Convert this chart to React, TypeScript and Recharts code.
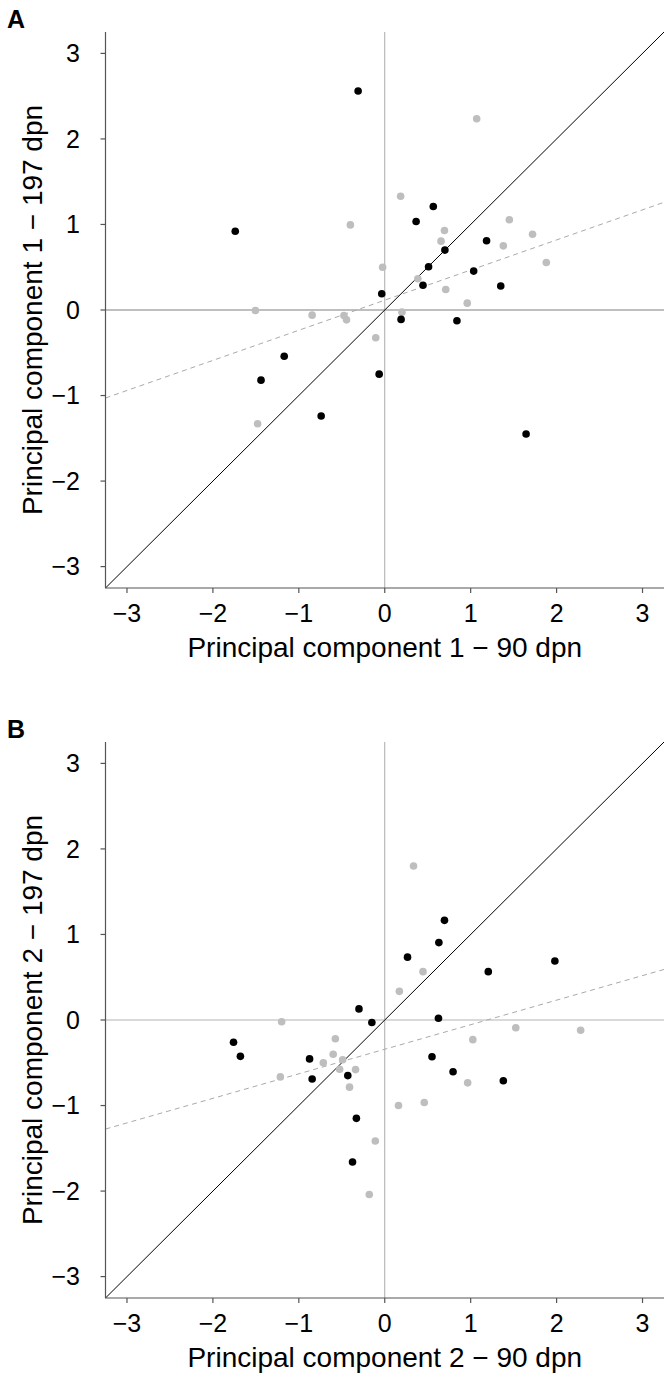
import { Label, ReferenceLine, Scatter, ScatterChart, XAxis, YAxis } from "recharts";

// values: [x, y] per sample
const pc1Dark: [number, number][] = [
  [-1.74, 0.92], [-0.31, 2.56], [-0.035, 0.19], [0.19, -0.11], [-1.17, -0.54],
  [-1.44, -0.82], [-0.065, -0.75], [-0.74, -1.24], [0.565, 1.21], [0.365, 1.035],
  [1.185, 0.81], [0.7, 0.7], [0.51, 0.505], [1.035, 0.455], [0.445, 0.29],
  [1.35, 0.28], [0.84, -0.125], [1.645, -1.45],
];
const pc1Light: [number, number][] = [
  [-0.4, 0.995], [0.185, 1.33], [1.07, 2.235], [-0.025, 0.5], [-1.505, -0.005],
  [-0.845, -0.06], [-0.475, -0.065], [-0.445, -0.115], [-0.105, -0.325], [-1.48, -1.33],
  [0.695, 0.93], [0.655, 0.805], [1.45, 1.055], [1.72, 0.885], [1.38, 0.75],
  [1.88, 0.555], [0.385, 0.365], [0.71, 0.24], [0.96, 0.08], [0.2, -0.025],
];
const pc2Dark: [number, number][] = [
  [-0.3, 0.13], [-0.15, -0.03], [-1.76, -0.26], [-1.68, -0.425], [-0.875, -0.455],
  [-0.845, -0.69], [-0.43, -0.65], [-0.33, -1.15], [-0.375, -1.66], [0.695, 1.165],
  [0.63, 0.905], [0.265, 0.735], [1.205, 0.565], [1.98, 0.69], [0.625, 0.02],
  [0.55, -0.43], [0.795, -0.605], [1.38, -0.71],
];
const pc2Light: [number, number][] = [
  [0.17, 0.335], [0.335, 1.8], [0.445, 0.565], [-1.2, -0.02], [-0.575, -0.22],
  [-0.6, -0.4], [-0.715, -0.5], [-0.49, -0.465], [-0.525, -0.575], [-0.34, -0.58],
  [-0.41, -0.785], [-1.215, -0.665], [0.16, -1.0], [0.46, -0.965], [-0.11, -1.415],
  [-0.18, -2.04], [1.525, -0.09], [2.28, -0.12], [1.025, -0.23], [0.965, -0.735],
];

// fitted lines (slope, intercept) as drawn in each panel
const pc1Fit = [0.352, 0.115];
const pc2Fit = [0.287, -0.342];

const TICKS = [-3, -2, -1, 0, 1, 2, 3];
const LIM = 3.25;
const FONT = '"Liberation Sans", Arial, Helvetica, sans-serif';
const AXIS = "#555";

const toPoints = (rows: [number, number][]) => rows.map(([x, y]) => ({ x, y }));
const minus = (v: number) => String(v).replace("-", "\u2212");

const dot = (fill: string) => (p: any) => <circle cx={p.cx} cy={p.cy} r={3.8} fill={fill} />;

function Panel({
  tag,
  xTitle,
  yTitle,
  dark,
  light,
  fit,
  zeroColor,
  top,
}: {
  tag: string;
  xTitle: string;
  yTitle: string;
  dark: [number, number][];
  light: [number, number][];
  fit: number[];
  zeroColor: string;
  top: number;
}) {
  const [slope, icpt] = fit;
  return (
    <div style={{ position: "absolute", left: 0, top, width: 672, height: 669 }}>
      <div
        style={{
          position: "absolute",
          left: 7,
          top: 7,
          fontFamily: FONT,
          fontWeight: "bold",
          fontSize: 25,
          lineHeight: 1,
          zIndex: 2,
        }}
      >
        {tag}
      </div>
      <ScatterChart width={672} height={669} margin={{ top: 32, right: 8, bottom: 1, left: 0 }}>
        <XAxis
          type="number"
          dataKey="x"
          domain={[-LIM, LIM]}
          ticks={TICKS}
          interval={0}
          allowDataOverflow
          height={80}
          tickSize={5}
          tickMargin={11}
          tickFormatter={minus}
          axisLine={{ stroke: AXIS, strokeWidth: 1.2 }}
          tickLine={{ stroke: AXIS, strokeWidth: 1.2 }}
          tick={{ fontSize: 25, fill: "#000", fontFamily: FONT }}
        >
          <Label
            content={(props: any) => {
              const vb = props.viewBox || { x: 105.5, y: 588, width: 558.5 };
              return (
                <text
                  x={vb.x + vb.width / 2}
                  y={vb.y + 69}
                  textAnchor="middle"
                  fontSize={28}
                  fontFamily={FONT}
                  fill="#000"
                >
                  {xTitle}
                </text>
              );
            }}
          />
        </XAxis>
        <YAxis
          type="number"
          dataKey="y"
          domain={[-LIM, LIM]}
          ticks={TICKS}
          interval={0}
          allowDataOverflow
          width={105.5}
          tickSize={5}
          tickMargin={20.5}
          tickFormatter={minus}
          axisLine={{ stroke: AXIS, strokeWidth: 1.2 }}
          tickLine={{ stroke: AXIS, strokeWidth: 1.2 }}
          tick={{ fontSize: 25, fill: "#000", fontFamily: FONT }}
        >
          <Label
            content={(props: any) => {
              const vb = props.viewBox || { x: 0, y: 32, height: 556 };
              const cx = vb.x + 42;
              const cy = vb.y + vb.height / 2;
              return (
                <text
                  x={cx}
                  y={cy}
                  transform={`rotate(-90 ${cx} ${cy})`}
                  textAnchor="middle"
                  fontSize={28}
                  fontFamily={FONT}
                  fill="#000"
                >
                  {yTitle}
                </text>
              );
            }}
          />
        </YAxis>
        <ReferenceLine x={0} stroke="#aaa" strokeWidth={1} />
        <ReferenceLine y={0} stroke={zeroColor} strokeWidth={1.3} />
        <ReferenceLine
          segment={[
            { x: -LIM, y: -LIM },
            { x: LIM, y: LIM },
          ]}
          stroke="#000"
          strokeWidth={1}
        />
        <ReferenceLine
          segment={[
            { x: -LIM, y: icpt - slope * LIM },
            { x: LIM, y: icpt + slope * LIM },
          ]}
          stroke="#aaa"
          strokeWidth={1}
          strokeDasharray="5 4"
        />
        <Scatter data={toPoints(light)} shape={dot("#bebebe")} isAnimationActive={false} />
        <Scatter data={toPoints(dark)} shape={dot("#000")} isAnimationActive={false} />
      </ScatterChart>
    </div>
  );
}

export default function App() {
  return (
    <div style={{ position: "absolute", left: 0, top: 0, width: 672, height: 1379, background: "#fff" }}>
      <Panel
        tag="A"
        xTitle={"Principal component 1 \u2212 90 dpn"}
        yTitle={"Principal component 1 \u2212 197 dpn"}
        dark={pc1Dark}
        light={pc1Light}
        fit={pc1Fit}
        zeroColor="#aaa"
        top={0}
      />
      <Panel
        tag="B"
        xTitle={"Principal component 2 \u2212 90 dpn"}
        yTitle={"Principal component 2 \u2212 197 dpn"}
        dark={pc2Dark}
        light={pc2Light}
        fit={pc2Fit}
        zeroColor="#ccc"
        top={710}
      />
    </div>
  );
}
